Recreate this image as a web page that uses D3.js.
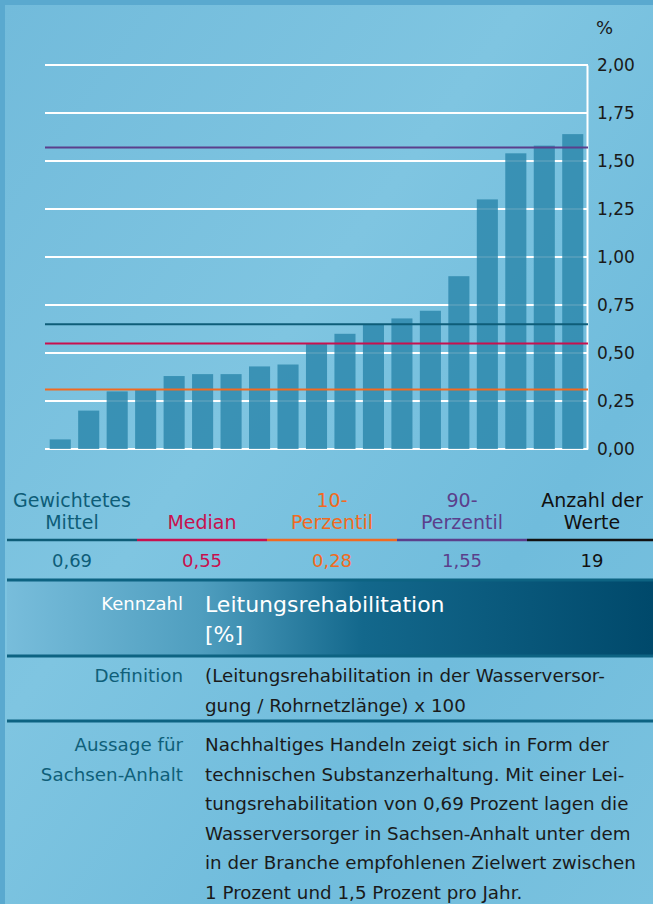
<!DOCTYPE html>
<html>
<head>
<meta charset="utf-8">
<script src="https://cdn.jsdelivr.net/npm/d3@7"></script>
<style>
  html, body { margin: 0; padding: 0; background: #5aa9cf; }
  svg { display: block; font-family: "DejaVu Sans", sans-serif; }
</style>
</head>
<body>
<div id="chart"></div>
<script>
// bar values (percent), sorted as in the original
const barValues = [0.05, 0.20, 0.30, 0.31, 0.38, 0.39, 0.39, 0.43, 0.44, 0.55,
                   0.60, 0.65, 0.68, 0.72, 0.90, 1.30, 1.54, 1.58, 1.64];
const yTicks = [0, 0.25, 0.5, 0.75, 1.0, 1.25, 1.5, 1.75, 2.0];

// reference lines drawn across the chart
const refNames = ["mittel", "median", "p10", "p90"];
const refLineValues = [0.65, 0.55, 0.31, 1.57];

// statistics row under the chart
const statLabels = [["Gewichtetes", "Mittel"], ["Median"], ["10-", "Perzentil"], ["90-", "Perzentil"], ["Anzahl der", "Werte"]];
const statValues = ["0,69", "0,55", "0,28", "1,55", "19"];

// info table
const kennzahlLines = ["Leitungsrehabilitation", "[%]"];
const definitionLines = ["(Leitungsrehabilitation in der Wasserversor-", "gung / Rohrnetzlänge) x 100"];
const aussageLabel = ["Aussage für", "Sachsen-Anhalt"];
const aussageLines = [
  "Nachhaltiges Handeln zeigt sich in Form der",
  "technischen Substanzerhaltung. Mit einer Lei-",
  "tungsrehabilitation von 0,69 Prozent lagen die",
  "Wasserversorger in Sachsen-Anhalt unter dem",
  "in der Branche empfohlenen Zielwert zwischen",
  "1 Prozent und 1,5 Prozent pro Jahr."
];

const colors = {
  mittel: "#0e5d78", median: "#c8104e", p10: "#f26a21", p90: "#5b3f8c", count: "#111111"
};
const statColors = [colors.mittel, colors.median, colors.p10, colors.p90, colors.count];
const labelTeal = "#0f5f79";

const width = 653, height = 904;
const svg = d3.select("#chart").append("svg")
    .attr("width", width).attr("height", height);

const defs = svg.append("defs");
const bg = defs.append("linearGradient").attr("id", "bg").attr("x1", 0).attr("y1", 0).attr("x2", 1).attr("y2", 1);
bg.append("stop").attr("offset", "0%").attr("stop-color", "#72bbdb");
bg.append("stop").attr("offset", "40%").attr("stop-color", "#7fc5e1");
bg.append("stop").attr("offset", "70%").attr("stop-color", "#70bcdc");
bg.append("stop").attr("offset", "100%").attr("stop-color", "#7ac2df");

const band = defs.append("linearGradient").attr("id", "band").attr("x1", 0).attr("x2", 1).attr("y1", 0).attr("y2", 0);
band.append("stop").attr("offset", "0%").attr("stop-color", "#78bddb");
band.append("stop").attr("offset", "30%").attr("stop-color", "#4f9ebf");
band.append("stop").attr("offset", "55%").attr("stop-color", "#13688c");
band.append("stop").attr("offset", "100%").attr("stop-color", "#00496b");

// outer frame + panel
svg.append("rect").attr("width", width).attr("height", height).attr("fill", "#5aa9cf");
svg.append("rect").attr("x", 5).attr("y", 5).attr("width", width - 5).attr("height", height - 5).attr("fill", "url(#bg)");

// ---- chart ----
const x = d3.scaleBand()
    .domain(d3.range(barValues.length))
    .range([46, 587])
    .paddingInner(0.26)
    .paddingOuter(0.13);

const y = d3.scaleLinear()
    .domain([0, 2])
    .range([449, 65]);

// grid lines
svg.append("g")
  .selectAll("line")
  .data(yTicks)
  .join("line")
    .attr("x1", 45).attr("x2", 588)
    .attr("y1", d => y(d)).attr("y2", d => y(d))
    .attr("stroke", "#ffffff").attr("stroke-width", 2);

// right axis
const yAxis = d3.axisRight(y)
    .tickValues(yTicks)
    .tickSize(0)
    .tickPadding(10)
    .tickFormat(d => d3.format(".2f")(d).replace(".", ","));

const ax = svg.append("g").attr("transform", "translate(587,0)").call(yAxis);
ax.select(".domain").attr("stroke", "#ffffff").attr("stroke-width", 2);
ax.selectAll("text").attr("fill", "#1a1a1a").attr("font-size", 17).attr("font-family", "DejaVu Sans, sans-serif");

svg.append("text")
    .attr("x", 596).attr("y", 34)
    .attr("fill", "#1a1a1a").attr("font-size", 18)
    .text("%");

// bars
svg.append("g")
  .selectAll("rect")
  .data(barValues)
  .join("rect")
    .attr("x", (d, i) => x(i))
    .attr("width", x.bandwidth())
    .attr("y", d => y(d))
    .attr("height", d => y(0) - y(d))
    .attr("fill", "#2b86ab")
    .attr("fill-opacity", 0.82);

// reference lines
svg.append("g")
  .selectAll("line")
  .data(refLineValues)
  .join("line")
    .attr("x1", 45).attr("x2", 588)
    .attr("y1", d => y(d)).attr("y2", d => y(d))
    .attr("stroke", (d, i) => colors[refNames[i]])
    .attr("stroke-width", 2);

// ---- statistics row ----
const sx = d3.scaleBand().domain(d3.range(statLabels.length)).range([7, 657]);

const stat = svg.append("g").selectAll("g")
  .data(statLabels)
  .join("g")
    .attr("transform", (d, i) => `translate(${sx(i)},0)`);

stat.append("text")
    .attr("x", sx.bandwidth() / 2)
    .attr("text-anchor", "middle")
    .attr("font-size", 19)
    .attr("fill", (d, i) => statColors[i])
  .selectAll("tspan")
  .data(d => d.length === 1 ? [null, d[0]] : d)
  .join("tspan")
    .attr("x", sx.bandwidth() / 2)
    .attr("y", (d, j) => 507 + j * 22)
    .text(d => d);

stat.append("line")
    .attr("x1", 0).attr("x2", sx.bandwidth())
    .attr("y1", 540).attr("y2", 540)
    .attr("stroke", (d, i) => statColors[i])
    .attr("stroke-width", 2.5);

stat.append("text")
    .attr("x", sx.bandwidth() / 2)
    .attr("y", 567)
    .attr("text-anchor", "middle")
    .attr("font-size", 18)
    .attr("fill", (d, i) => statColors[i])
    .text((d, i) => statValues[i]);

// ---- info table ----
svg.append("rect").attr("x", 7).attr("y", 581).attr("width", width - 7).attr("height", 75).attr("fill", "url(#band)");

[580, 656, 721].forEach(yy => {
  svg.append("line")
      .attr("x1", 7).attr("x2", width)
      .attr("y1", yy).attr("y2", yy)
      .attr("stroke", "#0d6382").attr("stroke-width", 3);
});

const labelX = 183, textX = 205;

svg.append("text")
    .attr("x", labelX).attr("y", 610)
    .attr("text-anchor", "end").attr("font-size", 18).attr("fill", "#ffffff")
    .text("Kennzahl");

svg.append("g").selectAll("text")
  .data(kennzahlLines)
  .join("text")
    .attr("x", textX).attr("y", (d, i) => 612 + i * 30)
    .attr("font-size", 22).attr("fill", "#ffffff")
    .text(d => d);

svg.append("text")
    .attr("x", labelX).attr("y", 682)
    .attr("text-anchor", "end").attr("font-size", 18.3).attr("fill", labelTeal)
    .text("Definition");

svg.append("g").selectAll("text")
  .data(definitionLines)
  .join("text")
    .attr("x", textX).attr("y", (d, i) => 682 + i * 29.5)
    .attr("font-size", 18.3).attr("fill", "#1a1a1a")
    .text(d => d);

svg.append("g").selectAll("text")
  .data(aussageLabel)
  .join("text")
    .attr("x", labelX).attr("y", (d, i) => 751 + i * 29.5)
    .attr("text-anchor", "end").attr("font-size", 18.3).attr("fill", labelTeal)
    .text(d => d);

svg.append("g").selectAll("text")
  .data(aussageLines)
  .join("text")
    .attr("x", textX).attr("y", (d, i) => 751 + i * 29.5)
    .attr("font-size", 18.3).attr("fill", "#1a1a1a")
    .text(d => d);
</script>
</body>
</html>
